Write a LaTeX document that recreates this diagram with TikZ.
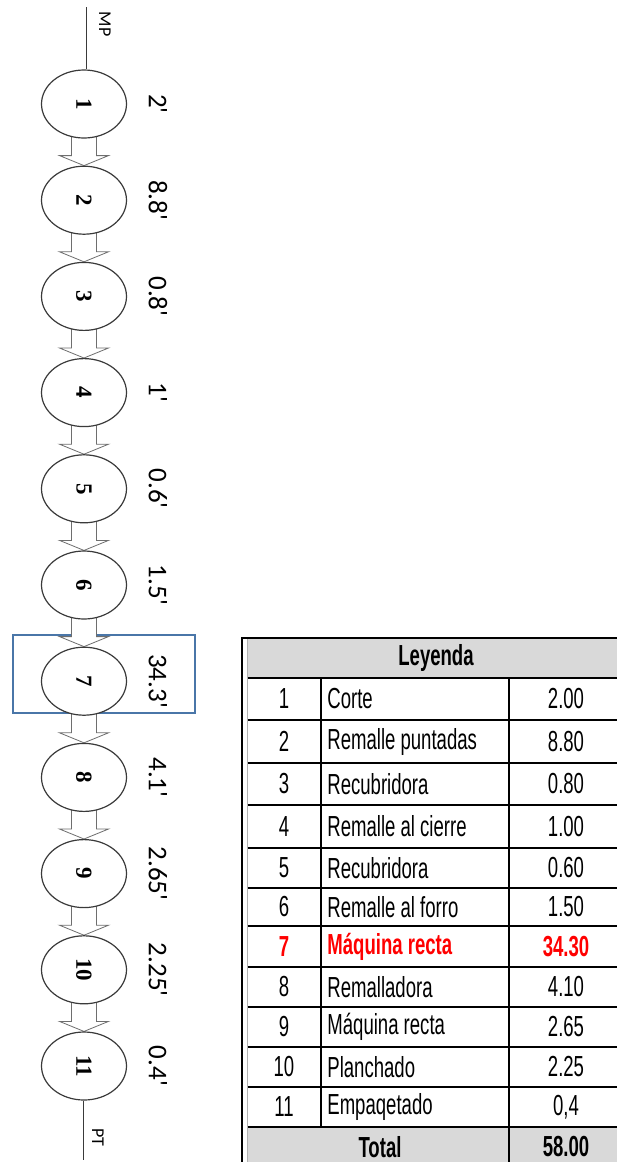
\documentclass[tikz,border=0pt]{standalone}
\usepackage{fontspec}
\newfontfamily\lblfont{Carlito}
\newfontfamily\numfont{Liberation Serif}
\newfontfamily\tabfont[FakeStretch=0.64]{Liberation Sans}
\usetikzlibrary{positioning,calc,shapes.geometric,backgrounds}
\definecolor{FlowInk}{HTML}{3A3A3A}
\definecolor{ArrowGray}{HTML}{6E6E6E}
\definecolor{MarkBlue}{HTML}{4A76A8}
\definecolor{HeadGray}{HTML}{D9D9D9}
\definecolor{HotRed}{HTML}{FF0000}
\newcommand\tabsize{\fontsize{14.5}{15}\selectfont}

% hollow block arrow from one operation to the next
\newcommand\flowstep[2]{%
  \draw[flowarr] ($(#1.south)+(-6.25,2)$) -- ($(#2.north)+(-6.25,5)$)
    -- ($(#2.north)+(-12.25,5)$) -- (#2.north)
    -- ($(#2.north)+(12.25,5)$) -- ($(#2.north)+(6.25,5)$)
    -- ($(#1.south)+(6.25,2)$) -- cycle;}

\begin{document}
\begin{tikzpicture}[x=1pt, y=1pt,
  op/.style={ellipse, draw=FlowInk, line width=0.6pt, fill=white,
             minimum width=42.5pt, minimum height=34pt, inner sep=0pt,
             font=\numfont\bfseries\fontsize{11.5}{12}\selectfont},
  tm/.style={rotate=-90, text=black, font=\lblfont\fontsize{13.5}{14}\selectfont},
  endlbl/.style={rotate=-90, text=black, font=\lblfont\fontsize{9}{9}\selectfont},
  flowarr/.style={draw=ArrowGray, line width=0.4pt, fill=white},
  hilite/.style={draw=MarkBlue, line width=1pt},
  tabline/.style={draw=black, line width=1pt},
  cell/.style={inner sep=0pt, font=\tabfont\tabsize},
  hot/.style={inner sep=0pt, text=HotRed, font=\tabfont\bfseries\tabsize}
]
  \useasboundingbox (0,0) rectangle (308,-581);

  % Operations
  \node[op] (s1) at (42,-52) {\rotatebox{-90}{1}};
  \foreach \i [remember=\i as \prev (initially 1)] in {2,...,11}
    \node[op, below=13.5pt of s\prev] (s\i) {\rotatebox{-90}{\i}};

  % Times
  \foreach \i/\t in {1/2,2/8.8,3/0.8,4/1,5/0.6,6/1.5,7/34.3,8/4.1,9/2.65,10/2.25,11/0.4}
    \node[tm] (t\i) at ([xshift=37pt]s\i.center) {\t\textquotesingle};

  % Input and output
  \coordinate (mp) at (43,-3.5);
  \draw[FlowInk, line width=0.5pt] (mp) -- (mp |- s1.north);
  \node[endlbl] (mplbl) at (52.5,-12) {MP};
  \coordinate (pt) at (41.5,-580);
  \draw[FlowInk, line width=0.5pt] (pt |- s11.south) -- (pt);
  \node[endlbl] (ptlbl) at (49,-568.5) {PT};

  \begin{scope}[on background layer]
    \draw[hilite] ($(s7)+(-35.5,23)$) rectangle ($(s7)+(55.5,-16)$);
    \foreach \i [remember=\i as \prev (initially 1)] in {2,...,11}
      {\flowstep{s\prev}{s\i}}
  \end{scope}

  % Legend table
  \fill[HeadGray] (123.75,-319) rectangle (311,-339);
  \fill[HeadGray] (123.75,-563.5) rectangle (311,-583.5);
  \draw[line width=1pt] (121,-318.5) -- (121,-583.5);
  \draw[gray!60, line width=0.4pt] (123.75,-319) -- (123.75,-583.5);
  \draw[tabline] (121,-319) -- (311,-319);
  \foreach \y in {339,360,381.5,402.5,424,444,463,483.5,503.5,523.5,543.5,563.5}
    \draw[tabline] (123.75,-\y) -- (311,-\y);
  \draw[tabline] (160.5,-339) -- (160.5,-563.5);
  \draw[tabline] (254.5,-339) -- (254.5,-583.5);

  \node[cell, font=\tabfont\bfseries\tabsize] (head) at (218,-329) {Leyenda};
  \foreach \n/\y/\name/\val/\sty in {
      1/349.5/Corte/2.00/cell,
      2/370.75/Remalle puntadas/8.80/cell,
      3/392/Recubridora/0.80/cell,
      4/413.25/Remalle al cierre/1.00/cell,
      5/434/Recubridora/0.60/cell,
      6/453.5/Remalle al forro/1.50/cell,
      7/473.25/Máquina recta/34.30/hot,
      8/493.5/Remalladora/4.10/cell,
      9/513.5/Máquina recta/2.65/cell,
      10/533.5/Planchado/2.25/cell,
      11/553.5/Empaqetado/{0,4}/cell} {
    \node[\sty] (n\n) at (142,-\y) {\n};
    \node[\sty, anchor=west] (d\n) at (163.5,-\y) {\name};
    \node[\sty] (v\n) at (283,-\y) {\val};
  }
  \node[cell, font=\tabfont\bfseries\tabsize] (tot) at (190,-573.5) {Total};
  \node[cell, font=\tabfont\bfseries\tabsize] (totv) at (283,-573.5) {58.00};
\end{tikzpicture}
\end{document}
